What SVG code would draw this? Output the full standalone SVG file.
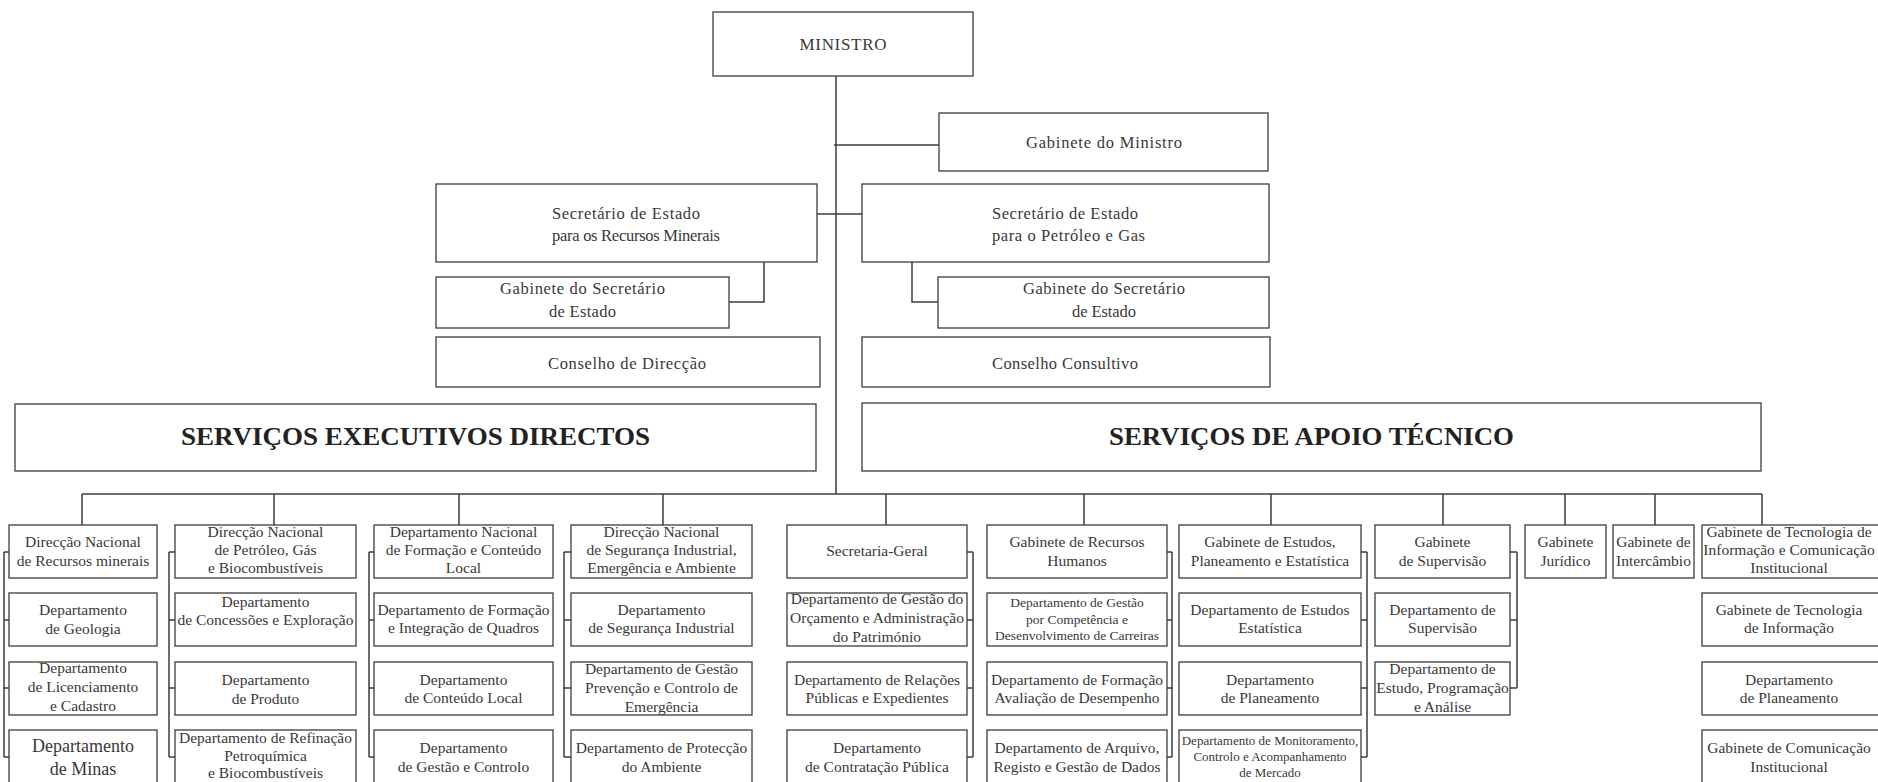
<svg xmlns="http://www.w3.org/2000/svg" width="1878" height="782" viewBox="0 0 1878 782">
<style>
.box{fill:#fff;stroke:#3c3c3c;stroke-width:1.3}
.t{font-family:"Liberation Serif","Times New Roman",serif;font-size:15.5px;fill:#383838;text-anchor:middle}
.tl{text-anchor:start}
.top{font-size:16.5px}
.big{font-size:25px;font-weight:bold;fill:#222}
.sm{font-size:13.5px}
.xs{font-size:13px}
.l{font-size:18px}
.conn path{fill:none;stroke:#3c3c3c;stroke-width:1.5}
</style>
<rect width="1878" height="782" fill="#fff"/>
<g class="conn" id="connectors">
<path d="M836,76 V494"/>
<path d="M834,145 H939"/>
<path d="M817,214 H862"/>
<path d="M764,262 V302 H729"/>
<path d="M912,262 V302 H938"/>
<path d="M82,494 H1762"/>
<path d="M82,494 V525 M274,494 V525 M459,494 V525 M663,494 V525 M886,494 V525 M1084,494 V525 M1271,494 V525 M1443,494 V525 M1565,494 V525 M1655,494 V525 M1762,494 V525"/>
<path d="M4,552 V757 M4,552 H9 M4,620 H9 M4,688 H9 M4,757 H9"/>
<path d="M169,552 V757 M169,552 H175 M169,620 H175 M169,688 H175 M169,757 H175"/>
<path d="M369,552 V757 M369,552 H374 M369,620 H374 M369,688 H374 M369,757 H374"/>
<path d="M564,552 V757 M564,552 H571 M564,620 H571 M564,688 H571 M564,757 H571"/>
<path d="M973,552 V757 M967,552 H973 M967,620 H973 M967,688 H973 M967,757 H973"/>
<path d="M1172,552 V757 M1167,552 H1172 M1167,620 H1172 M1167,688 H1172 M1167,757 H1172"/>
<path d="M1367,552 V757 M1361,552 H1367 M1361,620 H1367 M1361,688 H1367 M1361,757 H1367"/>
<path d="M1517,552 V688 M1510,552 H1517 M1510,620 H1517 M1510,688 H1517"/>
</g>
<g id="n-ministro"><rect class="box" x="713" y="12" width="260" height="64"/><text class="t" x="843" y="50" style="font-size:17px" textLength="87">MINISTRO</text></g>
<g id="n-gab-ministro"><rect class="box" x="939" y="113" width="329" height="58"/><text class="t top" x="1104" y="148" textLength="156">Gabinete do Ministro</text></g>
<g id="n-se-rm"><rect class="box" x="436" y="184" width="381" height="78"/><text class="t top tl"><tspan x="552" y="219" textLength="148">Secretário de Estado</tspan><tspan x="552" y="241" textLength="168">para os Recursos Minerais</tspan></text></g>
<g id="n-se-pg"><rect class="box" x="862" y="184" width="407" height="78"/><text class="t top tl"><tspan x="992" y="219" textLength="146">Secretário de Estado</tspan><tspan x="992" y="241" textLength="153">para o Petróleo e Gas</tspan></text></g>
<g id="n-gab-se-rm"><rect class="box" x="436" y="277" width="293" height="51"/><text class="t top"><tspan x="582.5" y="294" textLength="165">Gabinete do Secretário</tspan><tspan x="582.5" y="317" textLength="67">de Estado</tspan></text></g>
<g id="n-gab-se-pg"><rect class="box" x="938" y="277" width="331" height="51"/><text class="t top"><tspan x="1104" y="294" textLength="162">Gabinete do Secretário</tspan><tspan x="1104" y="317" textLength="64">de Estado</tspan></text></g>
<g id="n-cons-dir"><rect class="box" x="436" y="337" width="384" height="50"/><text class="t top" x="627" y="369" textLength="158">Conselho de Direcção</text></g>
<g id="n-cons-cons"><rect class="box" x="862" y="337" width="408" height="50"/><text class="t top" x="1065" y="369" textLength="146">Conselho Consultivo</text></g>
<g id="n-sed"><rect class="box" x="15" y="404" width="801" height="67"/><text class="t big" x="415.5" y="445" textLength="469" lengthAdjust="spacingAndGlyphs">SERVIÇOS EXECUTIVOS DIRECTOS</text></g>
<g id="n-sat"><rect class="box" x="862" y="403" width="899" height="68"/><text class="t big" x="1311.5" y="445" textLength="405" lengthAdjust="spacingAndGlyphs">SERVIÇOS DE APOIO TÉCNICO</text></g>

<g id="c1r1"><rect class="box" x="9" y="525" width="148" height="53"/><text class="t"><tspan x="83" y="547">Direcção Nacional</tspan><tspan x="83" y="566">de Recursos minerais</tspan></text></g>
<g id="c1r2"><rect class="box" x="9" y="593" width="148" height="53"/><text class="t"><tspan x="83" y="615">Departamento</tspan><tspan x="83" y="634">de Geologia</tspan></text></g>
<g id="c1r3"><rect class="box" x="9" y="662" width="148" height="53"/><text class="t"><tspan x="83" y="673">Departamento</tspan><tspan x="83" y="692">de Licenciamento</tspan><tspan x="83" y="711">e Cadastro</tspan></text></g>
<g id="c1r4"><rect class="box" x="9" y="730" width="148" height="56"/><text class="t l"><tspan x="83" y="752">Departamento</tspan><tspan x="83" y="775">de Minas</tspan></text></g>

<g id="c2r1"><rect class="box" x="175" y="525" width="181" height="53"/><text class="t"><tspan x="265.5" y="537">Direcção Nacional</tspan><tspan x="265.5" y="555">de Petróleo, Gás</tspan><tspan x="265.5" y="573">e Biocombustíveis</tspan></text></g>
<g id="c2r2"><rect class="box" x="175" y="593" width="181" height="53"/><text class="t"><tspan x="265.5" y="607">Departamento</tspan><tspan x="265.5" y="625">de Concessões e Exploração</tspan></text></g>
<g id="c2r3"><rect class="box" x="175" y="662" width="181" height="53"/><text class="t"><tspan x="265.5" y="685">Departamento</tspan><tspan x="265.5" y="704">de Produto</tspan></text></g>
<g id="c2r4"><rect class="box" x="175" y="730" width="181" height="56"/><text class="t"><tspan x="265.5" y="743">Departamento de Refinação</tspan><tspan x="265.5" y="761">Petroquímica</tspan><tspan x="265.5" y="778">e Biocombustíveis</tspan></text></g>

<g id="c3r1"><rect class="box" x="374" y="525" width="179" height="53"/><text class="t"><tspan x="463.5" y="537">Departamento Nacional</tspan><tspan x="463.5" y="555">de Formação e Conteúdo</tspan><tspan x="463.5" y="573">Local</tspan></text></g>
<g id="c3r2"><rect class="box" x="374" y="593" width="179" height="53"/><text class="t"><tspan x="463.5" y="615">Departamento de Formação</tspan><tspan x="463.5" y="633">e Integração de Quadros</tspan></text></g>
<g id="c3r3"><rect class="box" x="374" y="662" width="179" height="53"/><text class="t"><tspan x="463.5" y="685">Departamento</tspan><tspan x="463.5" y="703">de Conteúdo Local</tspan></text></g>
<g id="c3r4"><rect class="box" x="374" y="730" width="179" height="56"/><text class="t"><tspan x="463.5" y="753">Departamento</tspan><tspan x="463.5" y="772">de Gestão e Controlo</tspan></text></g>

<g id="c4r1"><rect class="box" x="571" y="525" width="181" height="53"/><text class="t"><tspan x="661.5" y="537">Direcção Nacional</tspan><tspan x="661.5" y="555">de Segurança Industrial,</tspan><tspan x="661.5" y="573">Emergência e Ambiente</tspan></text></g>
<g id="c4r2"><rect class="box" x="571" y="593" width="181" height="53"/><text class="t"><tspan x="661.5" y="615">Departamento</tspan><tspan x="661.5" y="633">de Segurança Industrial</tspan></text></g>
<g id="c4r3"><rect class="box" x="571" y="662" width="181" height="53"/><text class="t"><tspan x="661.5" y="674">Departamento de Gestão</tspan><tspan x="661.5" y="693">Prevenção e Controlo de</tspan><tspan x="661.5" y="712">Emergência</tspan></text></g>
<g id="c4r4"><rect class="box" x="571" y="730" width="181" height="56"/><text class="t"><tspan x="661.5" y="753">Departamento de Protecção</tspan><tspan x="661.5" y="772">do Ambiente</tspan></text></g>

<g id="c5r1"><rect class="box" x="787" y="525" width="180" height="53"/><text class="t" x="877" y="556">Secretaria-Geral</text></g>
<g id="c5r2"><rect class="box" x="787" y="593" width="180" height="53"/><text class="t"><tspan x="877" y="604">Departamento de Gestão do</tspan><tspan x="877" y="623">Orçamento e Administração</tspan><tspan x="877" y="642">do Património</tspan></text></g>
<g id="c5r3"><rect class="box" x="787" y="662" width="180" height="53"/><text class="t"><tspan x="877" y="685">Departamento de Relações</tspan><tspan x="877" y="703">Públicas e Expedientes</tspan></text></g>
<g id="c5r4"><rect class="box" x="787" y="730" width="180" height="56"/><text class="t"><tspan x="877" y="753">Departamento</tspan><tspan x="877" y="772">de Contratação Pública</tspan></text></g>

<g id="c6r1"><rect class="box" x="987" y="525" width="180" height="53"/><text class="t"><tspan x="1077" y="547">Gabinete de Recursos</tspan><tspan x="1077" y="566">Humanos</tspan></text></g>
<g id="c6r2"><rect class="box" x="987" y="593" width="180" height="53"/><text class="t sm"><tspan x="1077" y="607">Departamento de Gestão</tspan><tspan x="1077" y="624">por Competência e</tspan><tspan x="1077" y="640">Desenvolvimento de Carreiras</tspan></text></g>
<g id="c6r3"><rect class="box" x="987" y="662" width="180" height="53"/><text class="t"><tspan x="1077" y="685">Departamento de Formação</tspan><tspan x="1077" y="703">Avaliação de Desempenho</tspan></text></g>
<g id="c6r4"><rect class="box" x="987" y="730" width="180" height="56"/><text class="t"><tspan x="1077" y="753">Departamento de Arquivo,</tspan><tspan x="1077" y="772">Registo e Gestão de Dados</tspan></text></g>

<g id="c7r1"><rect class="box" x="1179" y="525" width="182" height="53"/><text class="t"><tspan x="1270" y="547">Gabinete de Estudos,</tspan><tspan x="1270" y="566">Planeamento e Estatística</tspan></text></g>
<g id="c7r2"><rect class="box" x="1179" y="593" width="182" height="53"/><text class="t"><tspan x="1270" y="615">Departamento de Estudos</tspan><tspan x="1270" y="633">Estatística</tspan></text></g>
<g id="c7r3"><rect class="box" x="1179" y="662" width="182" height="53"/><text class="t"><tspan x="1270" y="685">Departamento</tspan><tspan x="1270" y="703">de Planeamento</tspan></text></g>
<g id="c7r4"><rect class="box" x="1179" y="730" width="182" height="56"/><text class="t xs"><tspan x="1270" y="745">Departamento de Monitoramento,</tspan><tspan x="1270" y="761">Controlo e Acompanhamento</tspan><tspan x="1270" y="777">de Mercado</tspan></text></g>

<g id="c8r1"><rect class="box" x="1375" y="525" width="135" height="53"/><text class="t"><tspan x="1442.5" y="547">Gabinete</tspan><tspan x="1442.5" y="566">de Supervisão</tspan></text></g>
<g id="c8r2"><rect class="box" x="1375" y="593" width="135" height="53"/><text class="t"><tspan x="1442.5" y="615">Departamento de</tspan><tspan x="1442.5" y="633">Supervisão</tspan></text></g>
<g id="c8r3"><rect class="box" x="1375" y="662" width="135" height="53"/><text class="t"><tspan x="1442.5" y="674">Departamento de</tspan><tspan x="1442.5" y="693">Estudo, Programação</tspan><tspan x="1442.5" y="712">e Análise</tspan></text></g>

<g id="c9r1"><rect class="box" x="1525" y="525" width="81" height="53"/><text class="t"><tspan x="1565.5" y="547">Gabinete</tspan><tspan x="1565.5" y="566">Jurídico</tspan></text></g>
<g id="c10r1"><rect class="box" x="1613" y="525" width="81" height="53"/><text class="t"><tspan x="1653.5" y="547">Gabinete de</tspan><tspan x="1653.5" y="566">Intercâmbio</tspan></text></g>

<g id="c11r1"><rect class="box" x="1702" y="525" width="185" height="53"/><text class="t"><tspan x="1789" y="537">Gabinete de Tecnologia de</tspan><tspan x="1789" y="555">Informação e Comunicação</tspan><tspan x="1789" y="573">Institucional</tspan></text></g>
<g id="c11r2"><rect class="box" x="1702" y="593" width="185" height="53"/><text class="t"><tspan x="1789" y="615">Gabinete de Tecnologia</tspan><tspan x="1789" y="633">de Informação</tspan></text></g>
<g id="c11r3"><rect class="box" x="1702" y="662" width="185" height="53"/><text class="t"><tspan x="1789" y="685">Departamento</tspan><tspan x="1789" y="703">de Planeamento</tspan></text></g>
<g id="c11r4"><rect class="box" x="1702" y="730" width="185" height="56"/><text class="t"><tspan x="1789" y="753">Gabinete de Comunicação</tspan><tspan x="1789" y="772">Institucional</tspan></text></g>
</svg>
